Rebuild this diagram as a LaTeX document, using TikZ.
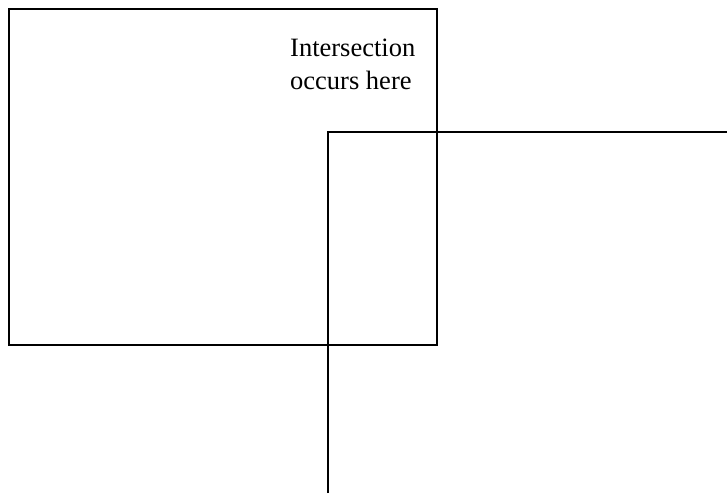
\documentclass[tikz,border=0pt]{standalone}
\usepackage{fontspec}
\setmainfont{Liberation Serif}
\begin{document}
\begin{tikzpicture}[x=1pt,y=-1pt,
  edge/.style={draw=black,line width=1.6pt},
  lbl/.style={anchor=north west,align=left,inner sep=0pt,font=\fontsize{26.5}{33}\selectfont}]
\useasboundingbox (0,0) rectangle (727,493);
\node[draw=black,line width=1.6pt,minimum width=428pt,minimum height=336pt,inner sep=0pt,anchor=north west] (boxa) at (8,8) {};
\coordinate (corner) at (328,132);
\coordinate (bend) at (328,493);
\coordinate (rend) at (727,132);
\draw[edge] (bend) -- (corner) -- (rend);
\node[lbl] (text) at (290,39) {Intersection\\occurs here};
\end{tikzpicture}
\end{document}
